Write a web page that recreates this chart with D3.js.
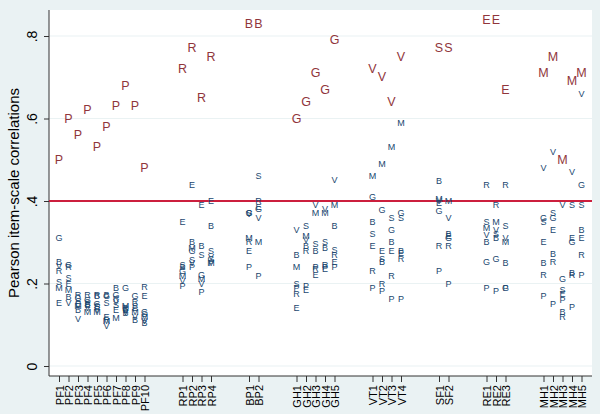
<!DOCTYPE html>
<html><head><meta charset="utf-8">
<script src="https://cdn.jsdelivr.net/npm/d3@7"></script>
<style>body{margin:0;background:#eaf2f3;} svg{display:block;font-family:"Liberation Sans",Arial,sans-serif;}</style>
</head><body><svg id="c" width="600" height="414"></svg>
<script>
// ---- data ----
const items = ["PF1","PF2","PF3","PF4","PF5","PF6","PF7","PF8","PF9","PF10",
  "RP1","RP2","RP3","RP4","BP1","BP2","GH1","GH2","GH3","GH4","GH5",
  "VT1","VT2","VT3","VT4","SF1","SF2","RE1","RE2","RE3","MH1","MH2","MH3","MH4","MH5"];
const groups = ["PF","RP","BP","GH","VT","SF","RE","MH"];
const scaleLetters = ["P","R","B","G","V","S","E","M"];
// correlation of each item with each scale total (same order as items)
const corrP = [.50,.60,.56,.62,.53,.58,.63,.68,.63,.48, .195,.24,.18,.25, .24,.219, .19,.195,.24,.24,.241, .19,.182,.162,.162, .23,.20, .19,.183,.19, .17,.15,.16,.142,.22];
const corrR = [.23,.24,.172,.172,.172,.112,.162,.14,.156,.192, .72,.77,.65,.75, .30,.40, .175,.28,.235,.245,.269, .23,.20,.219,.26, .29,.29, .439,.39,.44, .22,.253,.12,.22,.27];
const corrB = [.253,.168,.136,.15,.17,.172,.19,.128,.112,.105, .24,.30,.29,.34, .83,.83, .27,.29,.28,.285,.34, .35,.253,.30,.28, .448,.32, .301,.31,.25, .25,.272,.13,.225,.33];
const corrG = [.31,.245,.165,.16,.15,.17,.172,.19,.17,.132, .23,.28,.22,.26, .372,.38, .60,.64,.71,.67,.79, .41,.378,.33,.37, .375,.31, .253,.26,.19, .36,.36,.21,.30,.44];
const corrV = [.242,.152,.113,.14,.135,.097,.155,.13,.12,.11, .205,.25,.20,.265, .368,.358, .33,.305,.39,.38,.45, .72,.70,.64,.75, .40,.36, .318,.33,.31, .48,.52,.39,.47,.66];
const corrS = [.203,.213,.158,.155,.145,.153,.148,.138,.145,.125, .245,.257,.27,.28, .37,.46, .20,.34,.295,.30,.281, .32,.26,.358,.36, .77,.77, .35,.32,.34, .35,.372,.185,.39,.39];
const corrE = [.152,.198,.15,.148,.142,.12,.135,.135,.14,.17, .348,.44,.39,.40, .28,.385, .14,.185,.22,.235,.253, .29,.28,.28,.275, .395,.315, .84,.84,.67, .30,.33,.175,.31,.31];
const corrM = [.188,.185,.145,.132,.132,.108,.116,.145,.132,.12, .218,.285,.21,.25, .31,.30, .24,.315,.37,.37,.39, .46,.49,.53,.59, .405,.40, .334,.35,.30, .71,.75,.50,.69,.71];
const yTicks = [0,.2,.4,.6,.8];
const yTickLabels = ["0",".2",".4",".6",".8"];
const refLine = 0.4;
const yTitle = "Pearson item-scale correlations";

// ---- layout ----
const corr = {P:corrP,R:corrR,B:corrB,G:corrG,V:corrV,S:corrS,E:corrE,M:corrM};
const svg = d3.select("#c");
const L = 49, R = 592, T = 10, B = 376;
const pos = items.map((it,i) => i + 1 + 3*groups.indexOf(it.replace(/\d+$/,"")));
const x = d3.scaleLinear().domain([0,57]).range([49.5,591]);
const y = d3.scaleLinear().domain([0,.8]).range([366,36]);

svg.append("rect").attr("x",L).attr("y",T).attr("width",R-L).attr("height",B-T).attr("fill","#fff");
svg.append("g").selectAll("line").data(yTicks).join("line")
  .attr("x1",L).attr("x2",R).attr("y1",d=>y(d)).attr("y2",d=>y(d))
  .attr("stroke","#eaf2f3").attr("stroke-width",1.2);

// y axis
const ya = svg.append("g").attr("transform",`translate(${L},0)`)
  .call(d3.axisLeft(y).tickValues(yTicks).tickFormat((d,i)=>yTickLabels[i]).tickSize(5).tickSizeOuter(0));
ya.select(".domain").remove();
ya.selectAll("line").attr("stroke","#333");
ya.selectAll("text").attr("x",null).attr("dy",null).attr("text-anchor","middle")
  .attr("transform","translate(-12,0) rotate(-90)").attr("font-size",14).attr("fill","#000")
  .attr("font-family","Liberation Sans, Arial, sans-serif");
svg.append("text").attr("transform",`translate(19,${(T+B)/2}) rotate(-90)`).attr("text-anchor","middle")
  .attr("font-size",15).text(yTitle);

// x axis
const xa = svg.append("g").attr("transform",`translate(0,${B})`)
  .call(d3.axisBottom(x).tickValues(pos).tickFormat((d,i)=>items[i]).tickSize(6).tickSizeOuter(0));
xa.select(".domain").remove();
xa.selectAll("line").attr("stroke","#333");
xa.selectAll("text").attr("y",null).attr("dy",null).attr("text-anchor","end")
  .attr("transform","translate(4,9) rotate(-90)").attr("font-size",11).attr("fill","#000")
  .attr("font-family","Liberation Sans, Arial, sans-serif");

svg.append("line").attr("x1",L).attr("x2",L).attr("y1",T).attr("y2",B).attr("stroke","#333");
svg.append("line").attr("x1",L).attr("x2",R).attr("y1",B).attr("y2",B).attr("stroke","#333");

// reference line
svg.append("line").attr("x1",L).attr("x2",R).attr("y1",y(refLine)).attr("y2",y(refLine))
  .attr("stroke","#cc1f3d").attr("stroke-width",2);

// markers
const pts = [];
items.forEach((it,i)=>{
  const own = scaleLetters[groups.indexOf(it.replace(/\d+$/,""))];
  scaleLetters.forEach(s=>{ pts.push({p:pos[i], v:corr[s][i], s, own: s===own}); });
});
pts.sort((a,b)=>a.own-b.own);
svg.append("g").selectAll("text").data(pts).join("text")
  .attr("x",d=>x(d.p)).attr("y",d=>y(d.v)).attr("text-anchor","middle").attr("dominant-baseline","central")
  .attr("font-size",d=>d.own?12.5:9).attr("fill",d=>d.own?"#90353b":"#1a476f").text(d=>d.s);
</script></body></html>
